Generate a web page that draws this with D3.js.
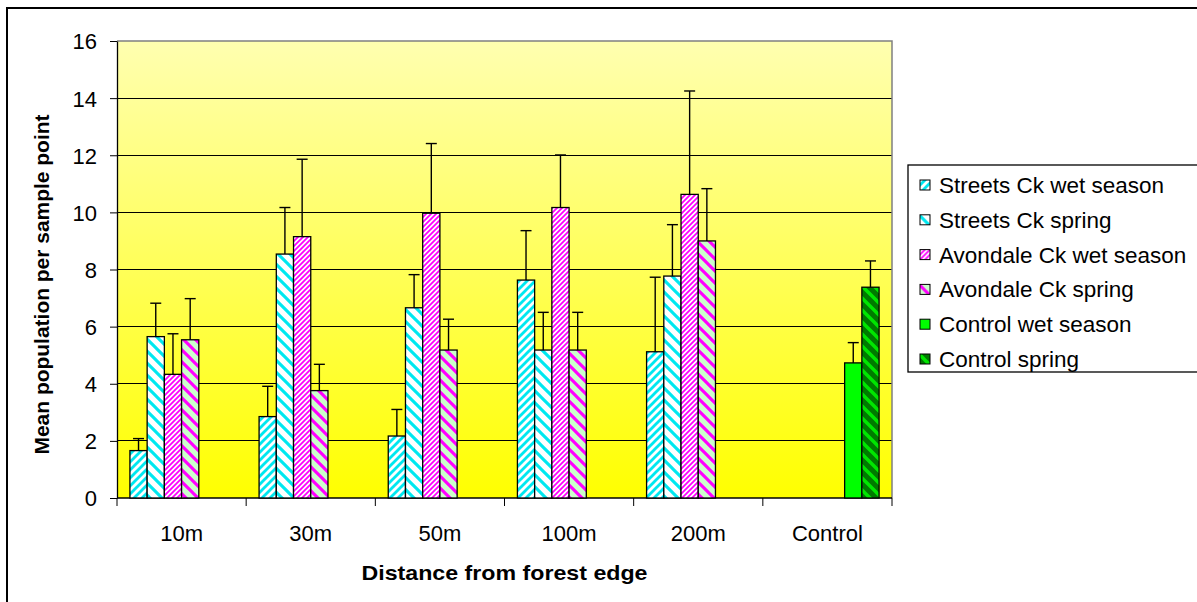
<!DOCTYPE html>
<html>
<head>
<meta charset="utf-8">
<script src="https://cdn.jsdelivr.net/npm/d3@7"></script>
<style>
  html, body { margin: 0; padding: 0; background: #fff; }
  svg { display: block; font-family: "Liberation Sans", Arial, sans-serif; }
</style>
</head>
<body>
<svg id="chart" width="1197" height="602"></svg>
<script>
// Distance groups along the x axis
const categories = ["10m", "30m", "50m", "100m", "200m", "Control"];

// Series names (legend order)
const seriesNames = [
  "Streets Ck wet season",
  "Streets Ck spring",
  "Avondale Ck wet season",
  "Avondale Ck spring",
  "Control wet season",
  "Control spring"
];

// Mean population per sample point (null = no bar in that group)
const streetsWet      = [1.66, 2.85, 2.17, 7.63, 5.12, null];
const streetsSpring   = [5.65, 8.54, 6.66, 5.18, 7.77, null];
const avondaleWet     = [4.33, 9.15, 9.97, 10.17, 10.63, null];
const avondaleSpring  = [5.54, 3.76, 5.18, 5.18, 9.00, null];
const controlWet      = [0, 0, 0, 0, 0, 4.73];
const controlSpring   = [0, 0, 0, 0, 0, 7.38];

// Upper error bar lengths
const streetsWetErr     = [0.42, 1.06, 0.93, 1.73, 2.61, null];
const streetsSpringErr  = [1.17, 1.63, 1.16, 1.32, 1.80, null];
const avondaleWetErr    = [1.42, 2.71, 2.44, 1.84, 3.62, null];
const avondaleSpringErr = [1.44, 0.92, 1.08, 1.32, 1.83, null];
const controlWetErr     = [null, null, null, null, null, 0.71];
const controlSpringErr  = [null, null, null, null, null, 0.92];

const yTicks = [0, 2, 4, 6, 8, 10, 12, 14, 16];

const seriesValues = [streetsWet, streetsSpring, avondaleWet, avondaleSpring, controlWet, controlSpring];
const seriesErrors = [streetsWetErr, streetsSpringErr, avondaleWetErr, avondaleSpringErr, controlWetErr, controlSpringErr];

const svg = d3.select("#chart");
const defs = svg.append("defs");

// Background gradient of the plot area
const grad = defs.append("linearGradient")
  .attr("id", "plotBg").attr("x1", 0).attr("y1", 0).attr("x2", 0).attr("y2", 1);
grad.append("stop").attr("offset", "0%").attr("stop-color", "#FFFFB0");
grad.append("stop").attr("offset", "100%").attr("stop-color", "#FFFF00");

// Diagonal stripe fills
function stripes(id, bg, fg, p, frac, dir) {
  const pat = defs.append("pattern")
    .attr("id", id).attr("patternUnits", "userSpaceOnUse")
    .attr("width", p).attr("height", p);
  pat.append("rect").attr("width", p).attr("height", p).attr("fill", bg);
  const h = p / 2;
  const d = dir === "up"
    ? `M0,${p}L${p},0M${-h},${h}L${h},${-h}M${h},${p + h}L${p + h},${h}`
    : `M0,0L${p},${p}M${-h},${h}L${h},${p + h}M${h},${-h}L${p + h},${h}`;
  pat.append("path").attr("d", d).attr("stroke", fg)
    .attr("stroke-width", frac * p / Math.SQRT2).attr("fill", "none");
}
stripes("pStreetsWet", "#FFFFFF", "#00E8F0", 8, 0.5, "up");
stripes("pStreetsSpring", "#FFFFFF", "#00E8F0", 12, 0.36, "down");
stripes("pAvondaleWet", "#FFFFFF", "#FF00FF", 5, 0.5, "up");
stripes("pAvondaleSpring", "#CCFFCC", "#FF00FF", 12, 0.36, "down");
stripes("pControlSpring", "#007A00", "#00E600", 12, 0.4, "down");

const fills = [
  "url(#pStreetsWet)", "url(#pStreetsSpring)", "url(#pAvondaleWet)",
  "url(#pAvondaleSpring)", "#00FF00", "url(#pControlSpring)"
];

// Outer chart frame
svg.append("rect").attr("x", 7).attr("y", 8).attr("width", 1220).attr("height", 620)
  .attr("fill", "none").attr("stroke", "#000").attr("stroke-width", 2);

const plot = { left: 117, right: 892, top: 41, bottom: 498 };

const x0 = d3.scaleBand().domain(categories).range([plot.left, plot.right]).padding(0);
const bw = x0.bandwidth();
const x1 = d3.scaleBand().domain(d3.range(seriesNames.length)).range([bw * 0.1, bw * 0.9]).padding(0);
const y = d3.scaleLinear().domain([0, 16]).range([plot.bottom, plot.top]);

// Plot background
svg.append("rect").attr("x", plot.left).attr("y", plot.top)
  .attr("width", plot.right - plot.left).attr("height", plot.bottom - plot.top)
  .attr("fill", "url(#plotBg)");

// Gridlines
svg.append("g").selectAll("line").data(yTicks.filter(t => t > 0 && t < 16)).join("line")
  .attr("x1", plot.left).attr("x2", plot.right)
  .attr("y1", d => y(d)).attr("y2", d => y(d))
  .attr("stroke", "#000").attr("stroke-width", 1).attr("shape-rendering", "crispEdges");

// Top and right plot border
svg.append("path")
  .attr("d", `M${plot.left},${y(16)}H${plot.right}V${plot.bottom}`)
  .attr("fill", "none").attr("stroke", "#808080").attr("stroke-width", 1.5);

// Bars
const rows = [];
categories.forEach((c, ci) => {
  seriesValues.forEach((vals, si) => {
    if (vals[ci] !== null) rows.push({ c, si, v: vals[ci], e: seriesErrors[si][ci] });
  });
});

// X axis baseline (drawn under the bars so zero-height bars stay visible)
svg.append("line").attr("x1", plot.left).attr("x2", plot.right)
  .attr("y1", plot.bottom).attr("y2", plot.bottom).attr("stroke", "#000").attr("stroke-width", 1.3);

const barG = svg.append("g");
barG.selectAll("rect").data(rows).join("rect")
  .attr("x", d => x0(d.c) + x1(d.si))
  .attr("y", d => d.v === 0 ? y(0) - 1 : y(d.v))
  .attr("width", x1.bandwidth())
  .attr("height", d => y(0) - y(d.v))
  .attr("fill", d => fills[d.si])
  .attr("stroke", d => d.v === 0 ? "#9a9a60" : "#000")
  .attr("stroke-width", d => d.v === 0 ? 1 : 1.3);

// Error bars (upper only)
const errRows = rows.filter(d => d.e !== null && d.v > 0);
const errG = svg.append("g").attr("stroke", "#000").attr("stroke-width", 1.4);
errRows.forEach(d => {
  const cx = x0(d.c) + x1(d.si) + x1.bandwidth() / 2;
  errG.append("line").attr("x1", cx).attr("x2", cx).attr("y1", y(d.v)).attr("y2", y(d.v + d.e));
  errG.append("line").attr("x1", cx - 5.5).attr("x2", cx + 5.5).attr("y1", y(d.v + d.e)).attr("y2", y(d.v + d.e));
});

// Y axis
const yAxis = svg.append("g").attr("transform", `translate(${plot.left},0)`)
  .call(d3.axisLeft(y).tickValues(yTicks).tickSize(7).tickPadding(13).tickSizeOuter(0));
yAxis.select(".domain").attr("stroke", "#000").attr("stroke-width", 1.3);
yAxis.selectAll(".tick line").attr("stroke", "#000");
yAxis.selectAll("text").attr("font-size", 22).attr("fill", "#000")
  .attr("font-family", "Liberation Sans, Arial, sans-serif").attr("dy", "0.36em");

// X axis: ticks between groups, labels centred on groups
const xAxisG = svg.append("g");
const bounds = categories.map(c => x0(c)).concat([x0(categories[categories.length - 1]) + bw]);
xAxisG.selectAll("line.tk").data(bounds).join("line").attr("class", "tk")
  .attr("x1", d => d).attr("x2", d => d).attr("y1", plot.bottom).attr("y2", plot.bottom + 8)
  .attr("stroke", "#000").attr("stroke-width", 1);
xAxisG.selectAll("text").data(categories).join("text")
  .attr("x", d => x0(d) + bw / 2).attr("y", 541)
  .attr("text-anchor", "middle").attr("font-size", 22).text(d => d);

// Axis titles
svg.append("text").attr("x", (plot.left + plot.right) / 2).attr("y", 580)
  .attr("text-anchor", "middle").attr("font-size", 21).attr("font-weight", "bold")
  .attr("textLength", 286).attr("lengthAdjust", "spacingAndGlyphs")
  .text("Distance from forest edge");
svg.append("text")
  .attr("transform", `translate(49,${(plot.top + plot.bottom) / 2 + 15}) rotate(-90)`)
  .attr("text-anchor", "middle").attr("font-size", 21).attr("font-weight", "bold")
  .attr("textLength", 340).attr("lengthAdjust", "spacingAndGlyphs")
  .text("Mean population per sample point");

// Legend
const lg = svg.append("g");
lg.append("rect").attr("x", 908).attr("y", 165).attr("width", 320).attr("height", 207)
  .attr("fill", "#fff").attr("stroke", "#000").attr("stroke-width", 1.3);
const rowY = d3.scalePoint().domain(seriesNames).range([185, 359]);
const items = lg.selectAll("g.item").data(seriesNames).join("g").attr("class", "item")
  .attr("transform", d => `translate(0,${rowY(d)})`);
items.append("rect").attr("x", 920).attr("y", -5).attr("width", 10).attr("height", 10)
  .attr("fill", (d, i) => fills[i]).attr("stroke", "#000").attr("stroke-width", 1);
items.append("text").attr("x", 939).attr("y", 8).attr("font-size", 22.5).text(d => d);
</script>
</body>
</html>
